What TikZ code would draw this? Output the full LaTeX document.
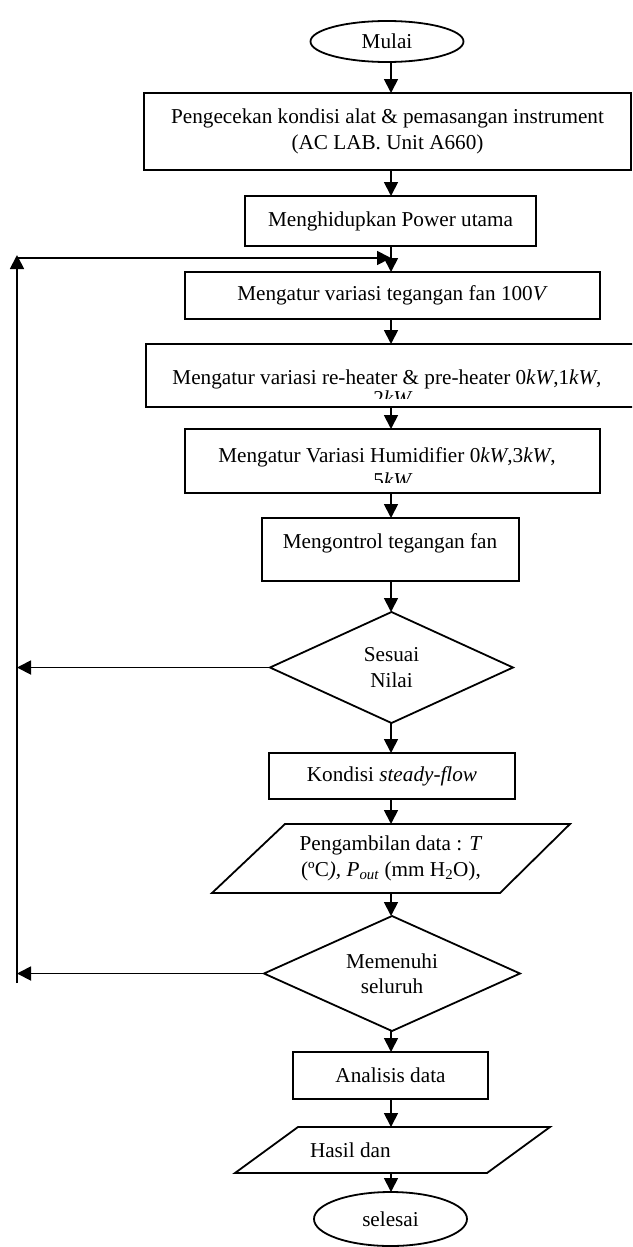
\documentclass[tikz,border=0pt]{standalone}
\usepackage{fontspec}
\setmainfont{Liberation Serif}
\usetikzlibrary{arrows.meta,shapes.geometric,calc}
\begin{document}
\begin{tikzpicture}[x=1pt,y=-1pt,
  every node/.style={font=\fontsize{21.2}{25.5}\selectfont, inner sep=0pt, outer sep=0pt},
  box/.style={draw, line width=1.8pt, rectangle},
  oval/.style={draw, line width=1.8pt, ellipse},
  ghost/.style={rectangle},
  lnk/.style={line width=1.8pt, line join=miter},
  arr/.style={line width=1.8pt, -{Triangle[length=14pt,width=14pt]}},
]
\useasboundingbox (0,0) rectangle (632,1247);
\clip (0,0) rectangle (632,1247);
\coordinate (ax) at (391,0);

% start
\node[oval, minimum width=153pt, minimum height=41pt] (m1) at (387,41.5) {Mulai};
\node[box, minimum width=487pt, minimum height=77pt, align=center] (b1) at (387.5,131.5)
  {Pengecekan kondisi alat \& pemasangan instrument\\(AC LAB. Unit A660)};
\node[box, minimum width=291pt, minimum height=50pt] (b2) at (390.5,221) {Menghidupkan Power utama};
\node[box, minimum width=415pt, minimum height=47pt] (b3) at (392.5,295.5) {Mengatur variasi tegangan fan 100\textit{V}};

% box 4
\node[box, minimum width=492pt, minimum height=63pt] (b4) at (392,375.5) {};
\node[anchor=base] (t4) at (387,384) {Mengatur variasi re-heater \& pre-heater 0\textit{kW},1\textit{kW},};
\begin{scope}
  \clip (150,380) rectangle (630,398);
  \node[anchor=base] (t4b) at (393,405) {2\textit{kW}};
\end{scope}

% box 5
\node[box, minimum width=415pt, minimum height=64pt] (b5) at (392.5,461) {};
\node[anchor=base] (t5) at (387,462) {Mengatur Variasi Humidifier 0\textit{kW},3\textit{kW},};
\begin{scope}
  \clip (190,470) rectangle (595,482);
  \node[anchor=base] (t5b) at (393,487) {5\textit{kW}};
\end{scope}

% box 6
\node[box, minimum width=257pt, minimum height=63pt] (b6) at (390.5,549.5) {};
\node (t6) at (390,543) {Mengontrol tegangan fan};

% decision 1
\node[ghost, minimum width=243pt, minimum height=111pt, align=center] (d1) at (391.5,667.5) {Sesuai\\Nilai};
\draw[lnk] (d1.north) -- (d1.east) -- (d1.south) -- (d1.west) -- cycle;

\node[box, minimum width=246pt, minimum height=46pt] (b7) at (392,776) {Kondisi \textit{steady}-\textit{flow}};

% data parallelogram
\node[ghost, minimum width=358pt, minimum height=69pt, align=center] (p1) at (391,858.5)
  {Pengambilan data : \textit{T}\\(ºC\textit{),} \textit{P}\textsubscript{\textit{out}} (mm H\textsubscript{2}O),};
\draw[lnk] ($(p1.north west)+(73,0)$) -- (p1.north east) -- ($(p1.south east)+(-70,0)$) -- (p1.south west) -- cycle;

% decision 2
\node[ghost, minimum width=256pt, minimum height=115pt, align=center] (d2) at (392,973.5) {Memenuhi\\seluruh};
\draw[lnk] (d2.north) -- (d2.east) -- (d2.south) -- (d2.west) -- cycle;

\node[box, minimum width=195pt, minimum height=47pt] (b8) at (390.5,1075.5) {Analisis data};

% result parallelogram
\node[ghost, minimum width=315pt, minimum height=46pt] (p2) at (392.5,1150) {};
\draw[lnk] ($(p2.north west)+(63,0)$) -- (p2.north east) -- ($(p2.south east)+(-63,0)$) -- (p2.south west) -- cycle;
\node[anchor=west] (t9) at (310,1150) {Hasil dan};

\node[oval, minimum width=153pt, minimum height=54pt] (m2) at (390.5,1219) {selesai};

% main flow
\draw[arr] (m1.south -| ax) -- (b1.north -| ax);
\draw[arr] (b1.south -| ax) -- (b2.north -| ax);
\draw[arr] (b2.south -| ax) -- (b3.north -| ax);
\draw[arr] (b3.south -| ax) -- (b4.north -| ax);
\draw[arr] (b4.south -| ax) -- (b5.north -| ax);
\draw[arr] (b5.south -| ax) -- (b6.north -| ax);
\draw[arr] (b6.south -| ax) -- (d1.north -| ax);
\draw[arr] (d1.south -| ax) -- (b7.north -| ax);
\draw[arr] (b7.south -| ax) -- (p1.north -| ax);
\draw[arr] (p1.south -| ax) -- (d2.north -| ax);
\draw[arr] (d2.south -| ax) -- (b8.north -| ax);
\draw[arr] (b8.south -| ax) -- (p2.north -| ax);
\draw[arr] (p2.south -| ax) -- (m2.north -| ax);

% feedback loop
\coordinate (lb) at (17,983);
\coordinate (lt) at (17,255);
\coordinate (jl) at (17,258);
\coordinate (j) at (391,258);
\draw[arr] (lb) -- (lt);
\draw[arr] (jl) -- (j);
\draw[arr] (d1.west) -- (d1.west -| lb);
\draw[arr] (d2.west) -- (d2.west -| lb);
\end{tikzpicture}
\end{document}
